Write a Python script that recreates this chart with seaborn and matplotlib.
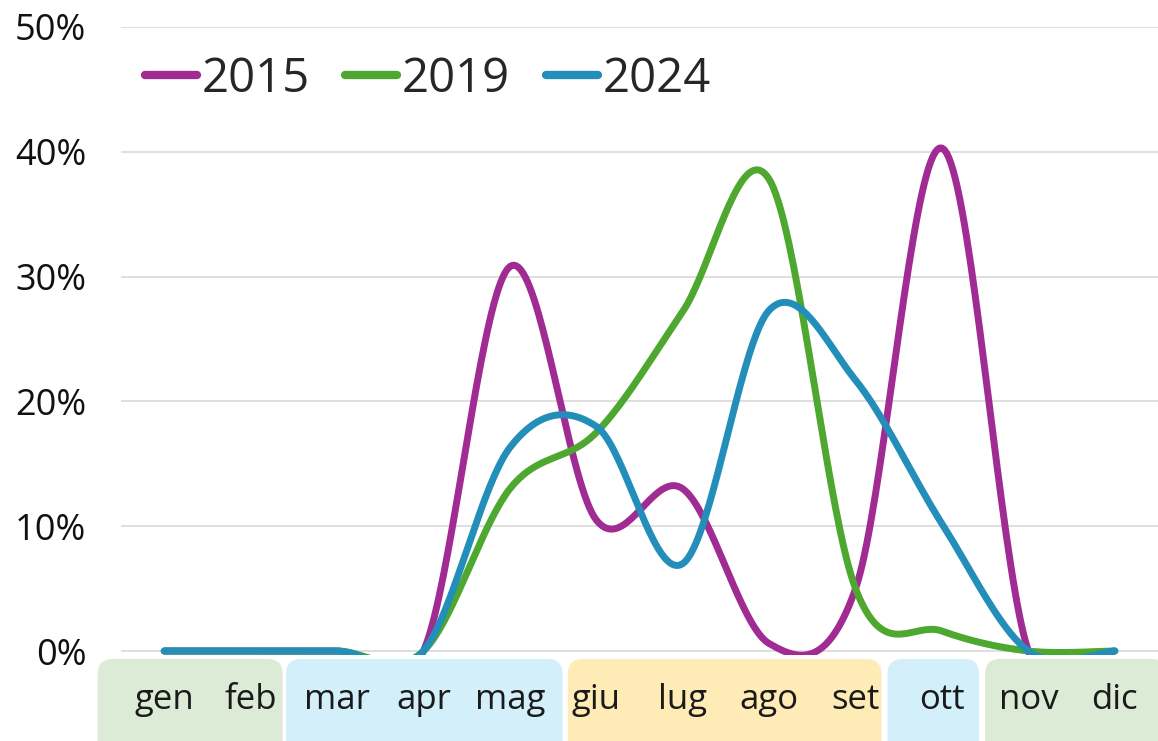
import numpy as np
import pandas as pd
import seaborn as sns
import matplotlib.pyplot as plt
from matplotlib.patches import FancyBboxPatch

# monthly share of the year (%)
months = ['gen', 'feb', 'mar', 'apr', 'mag', 'giu', 'lug', 'ago', 'set', 'ott', 'nov', 'dic']
y2015 = [0, 0, 0, 0, 30.8, 10.5, 13.0, 0.6, 5.0, 40.3, 0, 0]
y2019 = [0, 0, 0, 0, 13.0, 17.5, 27.2, 37.8, 5.0, 1.6, 0, 0]
y2024 = [0, 0, 0, 0, 16.3, 18.0, 7.0, 27.3, 21.7, 10.2, 0, 0]
years = ['2015', '2019', '2024']
colors = ['#A02B93', '#4EA72E', '#238EB9']

# season boxes under the axis: (first month, last month, colour)
seasons = [
    (-0.77, 1.37, '#DCEBD5'),
    (1.41, 4.61, '#D3EFFA'),
    (4.67, 8.30, '#FFEBB5'),
    (8.37, 9.43, '#D3EFFA'),
    (9.50, 11.6, '#DCEBD5'),
]


def smooth(vals, n=40):
    # excel-like smoothed line (catmull-rom as cubic bezier)
    p = np.array(vals, dtype=float)
    xi = np.arange(len(p), dtype=float)
    pp = np.concatenate([[p[0]], p, [p[-1]]])
    xx = np.concatenate([[xi[0]], xi, [xi[-1]]])
    t = np.linspace(0, 1, n)
    xs, ys = [], []
    for i in range(len(p) - 1):
        x0, x3 = xx[i + 1], xx[i + 2]
        y0, y3 = pp[i + 1], pp[i + 2]
        x1 = x0 + (xx[i + 2] - xx[i]) / 6
        y1 = y0 + (pp[i + 2] - pp[i]) / 6
        x2 = x3 - (xx[i + 3] - xx[i + 1]) / 6
        y2 = y3 - (pp[i + 3] - pp[i + 1]) / 6
        b = [(1 - t) ** 3, 3 * (1 - t) ** 2 * t, 3 * (1 - t) * t ** 2, t ** 3]
        xs.append(b[0] * x0 + b[1] * x1 + b[2] * x2 + b[3] * x3)
        ys.append(b[0] * y0 + b[1] * y1 + b[2] * y2 + b[3] * y3)
    return np.concatenate(xs), np.concatenate(ys)


sns.set_theme(style='white')
plt.rcParams['font.family'] = ['Open Sans', 'DejaVu Sans']

fig = plt.figure(figsize=(11.58, 7.41), dpi=100)
ax = fig.add_axes([121 / 1158, 86 / 741, 1 - 121 / 1158, 628 / 741])
ax.patch.set_visible(False)

for yr, vals, c in zip(years, [y2015, y2019, y2024], colors):
    sx, sy = smooth(vals)
    df = pd.DataFrame({'x': sx, 'y': sy})
    sns.lineplot(data=df, x='x', y='y', sort=False, ax=ax, color=c, lw=5,
                 label=yr, solid_capstyle='round')

ax.set_xlim(-0.5, 11.5)
ax.set_ylim(-0.32, 50)
ax.set_yticks(range(0, 51, 10))
ax.set_yticklabels([f'{v}%' for v in range(0, 51, 10)])
ax.set_xticks(range(len(months)))
ax.set_xticklabels(months)
ax.set_xlabel('')
ax.set_ylabel('')
ax.tick_params(axis='y', length=0, pad=25, labelsize=26, labelcolor='#111111')
ax.tick_params(axis='x', length=0, pad=20, labelsize=25, labelcolor='#1a1a1a')
ax.grid(axis='y', color='#D9D9D9', lw=1.2)
ax.grid(axis='x', visible=False)
for s in ax.spines.values():
    s.set_visible(False)

leg = ax.legend(loc='upper left', bbox_to_anchor=(0.005, 0.985), ncol=3, frameon=False,
                fontsize=34, handlelength=1.1, handletextpad=0.1, columnspacing=0.75,
                borderaxespad=0)
for h in leg.get_lines():
    h.set_linewidth(6)
    h.set_solid_capstyle('round')

# rounded season boxes behind the month labels
fig.canvas.draw()
inv = fig.transFigure.inverted()
for x0, x1, c in seasons:
    fx0 = inv.transform(ax.transData.transform((x0, 0)))[0]
    fx1 = inv.transform(ax.transData.transform((x1, 0)))[0]
    box = FancyBboxPatch((fx0, -0.05), fx1 - fx0, 0.1607,
                         boxstyle='round,pad=0,rounding_size=0.013',
                         mutation_aspect=1158 / 741, transform=fig.transFigure,
                         facecolor=c, edgecolor='none', zorder=-1)
    fig.patches.append(box)

fig.savefig('out.png', dpi=100)
